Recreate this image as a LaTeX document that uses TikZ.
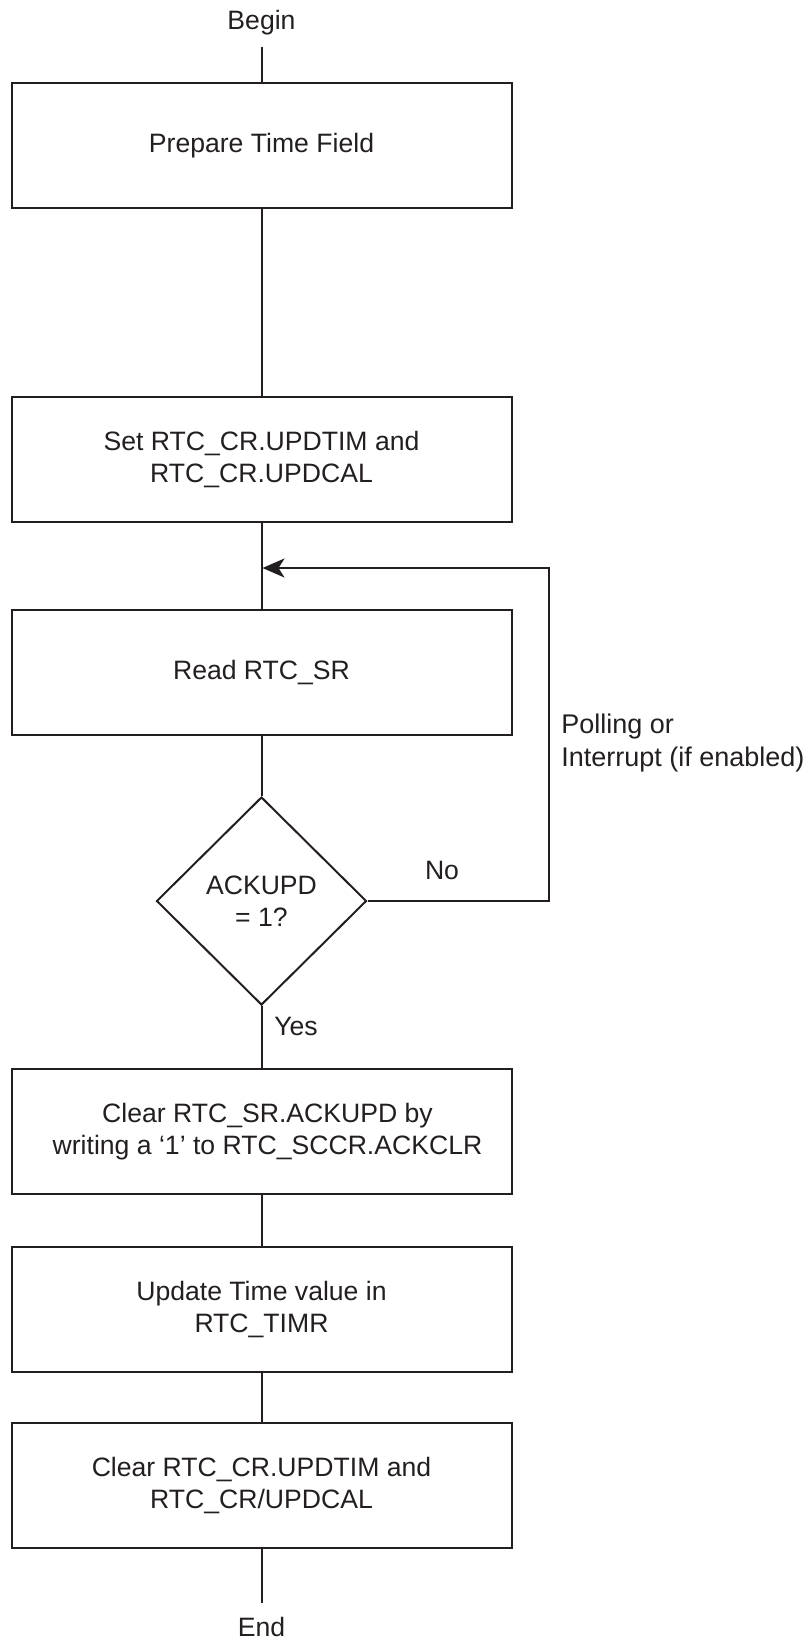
\documentclass[tikz,border=0pt]{standalone}
\usepackage{fontspec}
\setmainfont{Liberation Sans}
\usetikzlibrary{shapes.geometric,arrows.meta}
\definecolor{ink}{HTML}{231F20}
\newcommand\flowfont{\fontsize{13.3pt}{16pt}\selectfont}
\newcommand\sidefont{\fontsize{13.5pt}{16.5pt}\selectfont}
\begin{document}
\begin{tikzpicture}[x=0.5pt,y=-0.5pt,
  box/.style={draw=ink, line width=1pt, minimum width=250pt, minimum height=62.5pt,
    align=center, inner sep=0pt, font=\flowfont, text=ink},
  dia/.style={draw=ink, line width=1pt, diamond, aspect=1, inner sep=0pt,
    minimum width=105pt, minimum height=104pt, align=center, font=\flowfont, text=ink},
  lbl/.style={inner sep=0pt, font=\flowfont, text=ink},
  conn/.style={draw=ink, line width=1pt}]
\useasboundingbox (0,0) rectangle (807,1640);
\node[box] (b1) at (261.5,145.5) {Prepare Time Field};
\node[box] (b2) at (261.5,459.5) {Set RTC\_CR.UPDTIM and\\RTC\_CR.UPDCAL};
\node[box] (b3) at (261.5,672) {Read RTC\_SR};
\node[dia] (d) at (261.5,901) {ACKUPD\\= 1?};
\node[box] (b4) at (261.5,1131.5) {\hspace*{6pt}Clear RTC\_SR.ACKUPD by\\\hspace*{6pt}writing a ‘1’ to RTC\_SCCR.ACKCLR};
\node[box] (b5) at (261.5,1309.5) {Update Time value in\\RTC\_TIMR};
\node[box] (b6) at (261.5,1485) {Clear RTC\_CR.UPDTIM and\\RTC\_CR/UPDCAL};
\node[lbl] (begin) at (261.5,23) {Begin};
\node[lbl] (end) at (261.5,1627) {End};
\node[lbl] (no) at (442,870) {No};
\node[lbl] (yes) at (296,1026) {Yes};
\node[lbl, font=\sidefont, anchor=west, align=left] (poll) at (561,743.5) {Polling or\\Interrupt (if enabled)};
\coordinate (bt) at (261.5,47);
\coordinate (et) at (261.5,1603);
\coordinate (m) at (262.5,568);
\coordinate (r2) at (549,568);
\draw[conn] (bt) -- (b1.north);
\draw[conn] (b1.south) -- (b2.north);
\draw[conn] (b2.south) -- (b3.north);
\draw[conn] (b3.south) -- (d.north);
\draw[conn] (d.south) -- (b4.north);
\draw[conn] (b4.south) -- (b5.north);
\draw[conn] (b5.south) -- (b6.north);
\draw[conn] (b6.south) -- (et);
\draw[conn, -{Stealth[length=11pt, width=9.5pt, inset=3pt]}] (d.east) -| (r2) -- (m);
\end{tikzpicture}
\end{document}
